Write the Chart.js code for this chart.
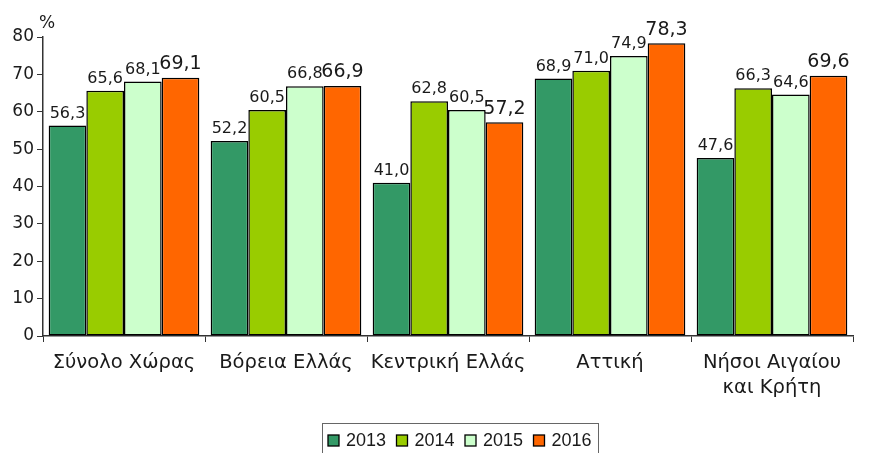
<!DOCTYPE html>
<html><head><meta charset="utf-8">
<script src="https://cdn.jsdelivr.net/npm/chart.js@4/dist/chart.umd.min.js"></script>
<style>html,body{margin:0;padding:0;background:#fff}#wrap{width:875px;height:453px}</style>
</head><body><div id="wrap"><canvas id="c" width="875" height="453"></canvas></div>
<script>
const categories = [["Σύνολο Χώρας"], ["Βόρεια Ελλάς"], ["Κεντρική Ελλάς"], ["Αττική"], ["Νήσοι Αιγαίου", "και Κρήτη"]];
const years = ["2013", "2014", "2015", "2016"];
const v2013 = [56.3, 52.2, 41.0, 68.9, 47.6];
const v2014 = [65.6, 60.5, 62.8, 71.0, 66.3];
const v2015 = [68.1, 66.8, 60.5, 74.9, 64.6];
const v2016 = [69.1, 66.9, 57.2, 78.3, 69.6];
const yTicks = [0, 10, 20, 30, 40, 50, 60, 70, 80];
const colors = ["#339966", "#99CC00", "#CCFFCC", "#FF6600"];
const FONT = "'DejaVu Sans', sans-serif";
const LFONT = "'Liberation Sans', sans-serif";

const series = [v2013, v2014, v2015, v2016];
const datasets = series.map((d, i) => ({
  label: years[i], data: d, backgroundColor: colors[i],
  borderColor: "#000", borderWidth: 1.5, borderSkipped: false,
  barPercentage: 1.0, categoryPercentage: 0.93
}));

const labelPlugin = {
  id: "labels",
  afterDatasetsDraw(chart) {
    const ctx = chart.ctx;
    ctx.save();
    ctx.fillStyle = "#1a1a1a";
    ctx.textAlign = "center";
    ctx.textBaseline = "bottom";
    chart.data.datasets.forEach((ds, di) => {
      const meta = chart.getDatasetMeta(di);
      ctx.font = (di === 3 ? "19px " : "16px ") + FONT;
      meta.data.forEach((bar, i) => {
        const txt = ds.data[i].toFixed(1).replace(".", ",");
        ctx.fillText(txt, bar.x, bar.y - 4);
      });
    });
    // % sign
    ctx.font = "17px " + FONT;
    ctx.textAlign = "left";
    ctx.fillText("%", chart.chartArea.left - 4, 32);
    // legend
    const items = chart.data.datasets;
    ctx.font = "18px " + LFONT;
    const x0 = 322, y0 = 423, cy = 440;
    ctx.strokeStyle = "#666"; ctx.lineWidth = 1;
    ctx.strokeRect(x0 + 0.5, y0 + 0.5, 276, 40);
    items.forEach((d, i) => {
      const x = 328 + i * 68.5;
      ctx.fillStyle = d.backgroundColor;
      ctx.fillRect(x, cy - 5, 11, 11);
      ctx.strokeStyle = "#000"; ctx.lineWidth = 1.3;
      ctx.strokeRect(x, cy - 5, 11, 11);
      ctx.fillStyle = "#1a1a1a";
      ctx.textBaseline = "middle";
      ctx.fillText(d.label, x + 18, cy + 1);
    });
    ctx.restore();
  }
};

new Chart(document.getElementById("c"), {
  type: "bar",
  data: { labels: categories, datasets },
  options: {
    responsive: false, animation: false,
    layout: { padding: { left: 0, right: 22, top: 37, bottom: 0 } },
    plugins: { legend: { display: false }, tooltip: { enabled: false } },
    scales: {
      x: {
        grid: { display: true, offset: true, drawOnChartArea: false, color: "#333", tickLength: 6, lineWidth: 1 },
        border: { display: true, color: "#333", width: 1.5 },
        ticks: { color: "#1a1a1a", font: { family: FONT, size: 19.5, lineHeight: 1.3 }, padding: 8, maxRotation: 0 },
        afterFit(s) { s.height = 117; }
      },
      y: {
        min: 0, max: 80,
        afterBuildTicks(s) { s.ticks = yTicks.map(v => ({ value: v })); },
        grid: { display: true, drawOnChartArea: false, color: "#333", tickLength: 6 },
        border: { display: true, color: "#333", width: 1.5 },
        ticks: { color: "#1a1a1a", font: { family: FONT, size: 17 }, padding: 3 },
        afterFit(s) { s.width = 43; }
      }
    }
  },
  plugins: [labelPlugin]
});
</script></body></html>
